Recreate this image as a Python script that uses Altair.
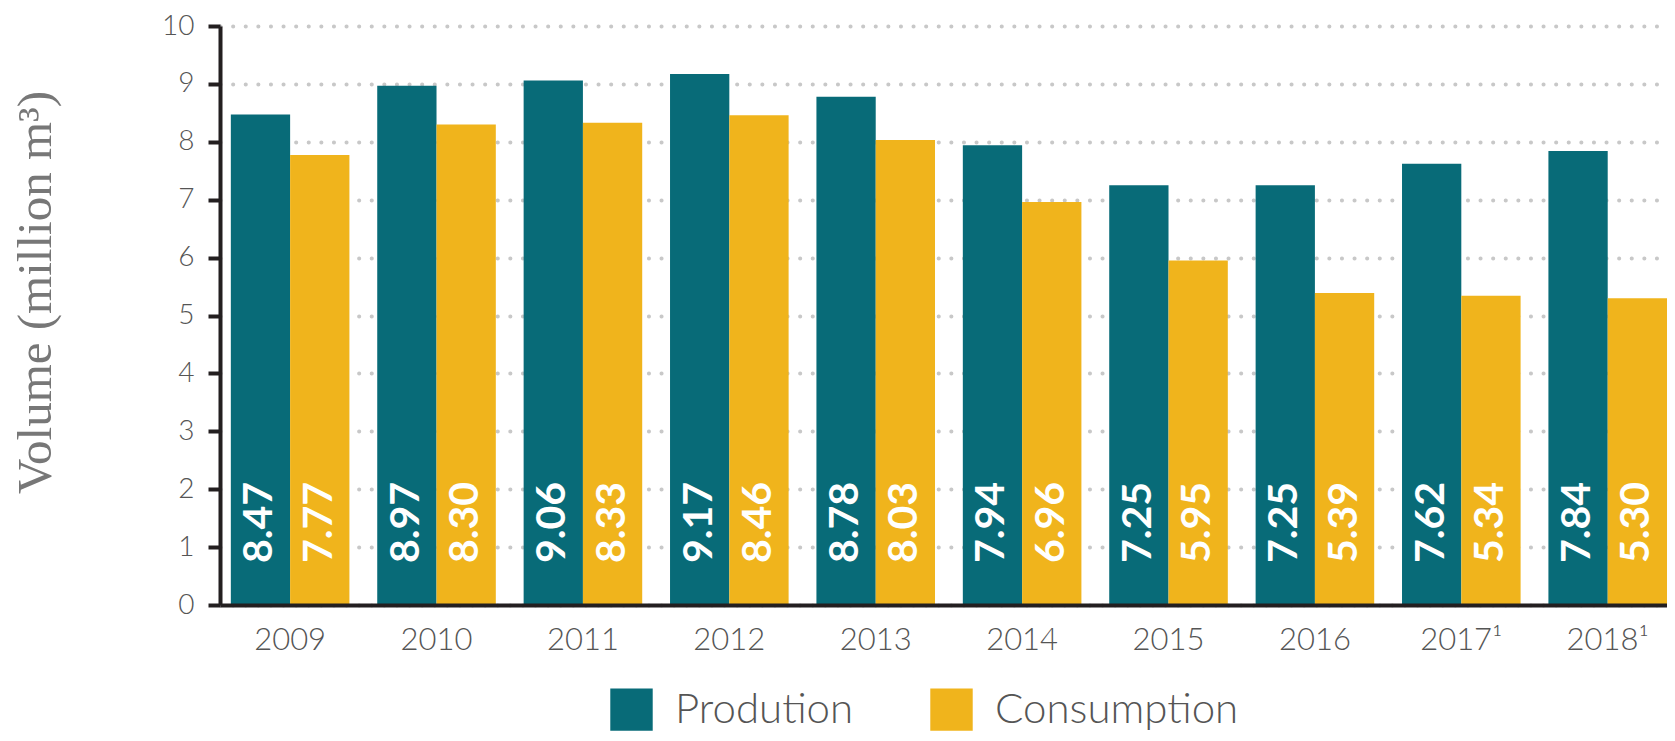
import altair as alt
import pandas as pd

years = ["2009", "2010", "2011", "2012", "2013", "2014", "2015", "2016", "2017¹", "2018¹"]
production = [8.47, 8.97, 9.06, 9.17, 8.78, 7.94, 7.25, 7.25, 7.62, 7.84]
consumption = [7.77, 8.30, 8.33, 8.46, 8.03, 6.96, 5.95, 5.39, 5.34, 5.30]
series = ["Prodution", "Consumption"]
colors = ["#086b78", "#f0b41c"]
y_ticks = [0, 1, 2, 3, 4, 5, 6, 7, 8, 9, 10]

rows = []
for i, yr in enumerate(years):
    rows.append({"year": yr, "series": series[0], "value": production[i], "label": f"{production[i]:.2f}"})
    rows.append({"year": yr, "series": series[1], "value": consumption[i], "label": f"{consumption[i]:.2f}"})
df = pd.DataFrame(rows)

x_enc = alt.X(
    "year:N", sort=years,
    scale=alt.Scale(paddingInner=0.19, paddingOuter=0.037, align=1),
    axis=alt.Axis(title=None, labelAngle=0, ticks=False, domainWidth=4, domainColor="#231f20",
                  labelFont="Lato", labelFontSize=31, labelFontWeight=300, labelColor="#555555",
                  labelPadding=20, grid=False, zindex=1),
)
xoff = alt.XOffset("series:N", sort=series, scale=alt.Scale(paddingInner=0, paddingOuter=0))
color_enc = alt.Color(
    "series:N", sort=series,
    scale=alt.Scale(domain=series, range=colors),
    legend=alt.Legend(title=None, orient="none", legendX=390, legendY=662, direction="horizontal",
                      symbolType="square", symbolSize=1800, symbolStrokeWidth=0, symbolOpacity=1,
                      labelFont="Lato", labelFontSize=42, labelFontWeight=300, labelColor="#555555",
                      labelOffset=22, columnPadding=76, padding=0, labelLimit=400),
)

bars = alt.Chart(df).mark_bar().encode(
    x=x_enc,
    xOffset=xoff,
    y=alt.Y("value:Q", scale=alt.Scale(domain=[0, 10], nice=False),
            axis=alt.Axis(values=y_ticks, format="d", title="Volume (million m³)",
                          titleFont="Liberation Serif", titleFontSize=49, titleFontWeight="normal",
                          titleColor="#777777", titleAngle=270, titleX=-185, titleY=266,
                          titleAlign="center", titleBaseline="middle",
                          labelFont="Lato", labelFontSize=28, labelFontWeight=300,
                          labelColor="#555555", labelPadding=14,
                          tickSize=12, tickWidth=4, tickColor="#231f20",
                          domainWidth=4, domainColor="#231f20",
                          gridColor="#c8c8c8", gridWidth=4, gridDash=[0.1, 12.5], gridCap="round")),
    color=color_enc,
)

labels = alt.Chart(df).mark_text(
    angle=270, align="left", baseline="middle", dx=42,
    font="Lato", fontSize=41, fontWeight="bold", color="white",
).encode(
    x=x_enc,
    xOffset=xoff,
    y=alt.datum(0),
    text="label:N",
)

chart = alt.layer(bars, labels).properties(
    width=1447, height=579,
    autosize=alt.AutoSizeParams(type="none"),
    padding={"left": 212, "top": 18, "right": 0, "bottom": 127},
    background="white",
).configure_view(stroke=None)

chart.save("out.html", embed_options={"renderer": "svg", "actions": False})
